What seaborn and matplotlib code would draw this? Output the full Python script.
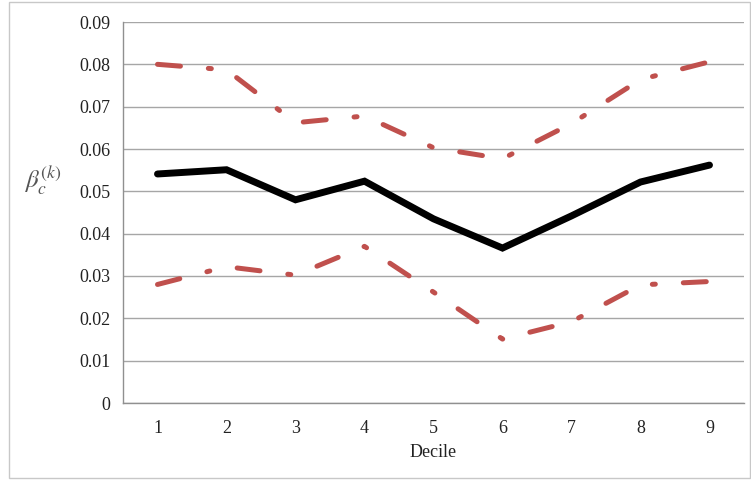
import pandas as pd
import matplotlib
matplotlib.use("Agg")
import matplotlib.pyplot as plt
from matplotlib.patches import Rectangle
import seaborn as sns

deciles = [1, 2, 3, 4, 5, 6, 7, 8, 9]
beta_mid = [0.0541, 0.0551, 0.0480, 0.0524, 0.0435, 0.0366, 0.0442, 0.0522, 0.0562]
beta_upper = [0.0800, 0.0787, 0.0662, 0.0678, 0.0603, 0.0577, 0.0660, 0.0764, 0.0806]
beta_lower = [0.0280, 0.0322, 0.0302, 0.0370, 0.0262, 0.0151, 0.0192, 0.0279, 0.0287]
y_ticks = [0, 0.01, 0.02, 0.03, 0.04, 0.05, 0.06, 0.07, 0.08, 0.09]

df = pd.DataFrame({
    "Decile": deciles,
    "mid": beta_mid,
    "upper": beta_upper,
    "lower": beta_lower,
})

sns.set_theme(style="white")
plt.rcParams["font.family"] = ["Liberation Serif", "DejaVu Serif"]
plt.rcParams["mathtext.fontset"] = "stix"

fig = plt.figure(figsize=(7.51, 4.83), dpi=100)
ax = fig.add_axes([123 / 751, 80 / 483, 621 / 751, 381 / 483])

red = "#C0504D"
dashdot = (0, (4.6, 5.6, 0.6, 5.6))
for col in ["upper", "lower"]:
    sns.lineplot(data=df, x="Decile", y=col, ax=ax, color=red, lw=3.6,
                 linestyle=dashdot, dash_capstyle="round")
sns.lineplot(data=df, x="Decile", y="mid", ax=ax, color="black", lw=5.0,
             solid_capstyle="round", solid_joinstyle="miter")

ax.set_xlim(0.5, 9.5)
ax.set_ylim(0, 0.09)
ax.set_yticks(y_ticks)
ax.set_yticklabels(["0"] + [f"{v:.2f}" for v in y_ticks[1:]])
ax.set_xticks(deciles)
ax.set_xticks([d - 0.5 for d in deciles] + [9.5], minor=True)
ax.tick_params(axis="x", which="major", length=0, pad=12, labelsize=13, colors="#222222")
ax.tick_params(axis="x", which="minor", length=5, width=1, color="#909090", direction="out")
ax.tick_params(axis="y", which="major", length=5, width=1, color="#909090",
               direction="out", pad=4, labelsize=13, labelcolor="#222222")
ax.grid(axis="y", color="#A6A6A6", lw=1)
ax.set_axisbelow(True)

for s in ["top", "right"]:
    ax.spines[s].set_visible(False)
for s in ["left", "bottom"]:
    ax.spines[s].set_color("#909090")
    ax.spines[s].set_linewidth(1)

ax.set_xlabel("Decile", fontsize=13, color="#222222", labelpad=5)
ax.set_ylabel(r"$\beta_c^{(k)}$", fontsize=18, color="#555555", rotation=0)
ax.yaxis.set_label_coords(-0.13, 0.54)

fig.patches.append(Rectangle((9 / 751, 5 / 483), 741 / 751, 476 / 483,
                             transform=fig.transFigure, fill=False,
                             edgecolor="#C8C8C8", lw=1))

fig.savefig("out.png", dpi=100)
